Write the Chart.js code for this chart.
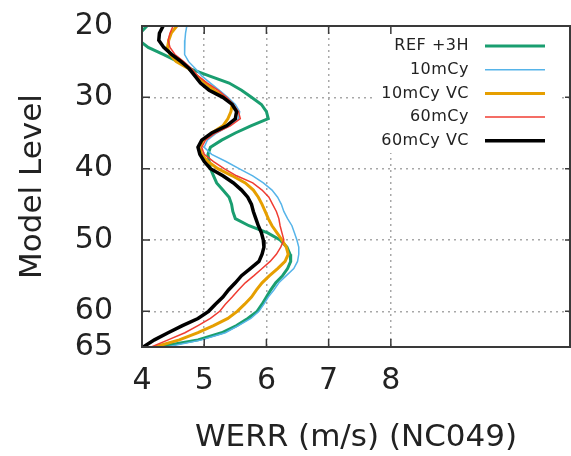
<!DOCTYPE html>
<html>
<head>
<meta charset="utf-8">
<script src="https://cdn.jsdelivr.net/npm/chart.js@4/dist/chart.umd.min.js"></script>
<style>
  html, body { margin: 0; padding: 0; background: #fff; overflow: hidden; }
  #wrap { width: 571px; height: 456px; position: relative; }
</style>
</head>
<body>
<div id="wrap"><canvas id="c"></canvas></div>
<script>
'use strict'

// model levels (shared by every series)
const levels = [20, 21, 22, 23, 24, 25, 26, 27, 28, 29, 30, 31, 32, 33, 34, 35, 36, 37, 38, 39, 40, 41, 42,
    43, 44, 45, 46, 47, 48, 49, 50, 51, 52, 53, 54, 55, 56, 57, 58, 59, 60, 61, 62, 63, 64, 65]

const ref3h = [4.08, 3.97, 3.95, 4.10, 4.35, 4.58, 4.78, 5.08, 5.40, 5.60, 5.76, 5.92, 6.00, 6.03, 5.75, 5.50,
    5.28, 5.10, 5.06, 5.08, 5.10, 5.15, 5.20, 5.30, 5.40, 5.44, 5.46, 5.50, 5.72, 6.02, 6.22, 6.33, 6.38, 6.39,
    6.34, 6.26, 6.15, 6.07, 6.00, 5.93, 5.85, 5.70, 5.52, 5.28, 4.90, 4.25]
const cy10 = [4.72, 4.70, 4.69, 4.68, 4.69, 4.75, 4.86, 4.96, 5.10, 5.24, 5.38, 5.50, 5.57, 5.55, 5.40, 5.20,
    5.05, 5.00, 5.12, 5.35, 5.56, 5.78, 5.95, 6.09, 6.18, 6.24, 6.28, 6.34, 6.41, 6.45, 6.49, 6.52, 6.52, 6.50,
    6.44, 6.32, 6.20, 6.12, 6.03, 5.96, 5.88, 5.75, 5.55, 5.34, 4.96, 4.40]
const cy10vc = [4.56, 4.47, 4.43, 4.41, 4.45, 4.55, 4.75, 4.88, 5.02, 5.16, 5.33, 5.45, 5.43, 5.38, 5.30, 5.12,
    4.98, 4.93, 4.96, 5.06, 5.22, 5.45, 5.66, 5.79, 5.87, 5.93, 5.98, 6.03, 6.09, 6.17, 6.25, 6.32, 6.35, 6.30,
    6.18, 6.05, 5.93, 5.84, 5.76, 5.65, 5.53, 5.38, 5.15, 4.90, 4.60, 4.20]
const cy60 = [4.50, 4.45, 4.42, 4.45, 4.53, 4.67, 4.80, 4.90, 5.05, 5.22, 5.36, 5.47, 5.55, 5.58, 5.42, 5.18,
    5.02, 4.96, 5.00, 5.15, 5.32, 5.52, 5.78, 5.93, 6.04, 6.10, 6.16, 6.20, 6.22, 6.25, 6.28, 6.23, 6.16, 6.06,
    5.93, 5.80, 5.66, 5.55, 5.45, 5.34, 5.25, 5.10, 4.90, 4.69, 4.42, 4.15]
const cy60vc = [4.34, 4.28, 4.27, 4.35, 4.48, 4.63, 4.76, 4.85, 4.94, 5.08, 5.30, 5.45, 5.52, 5.50, 5.36, 5.12,
    4.96, 4.90, 4.93, 5.00, 5.10, 5.30, 5.47, 5.60, 5.70, 5.76, 5.79, 5.83, 5.87, 5.92, 5.95, 5.96, 5.93, 5.88,
    5.74, 5.60, 5.50, 5.39, 5.30, 5.18, 5.07, 4.90, 4.65, 4.42, 4.20, 4.02]

const seriesNames = ['REF +3H', '10mCy', '10mCy VC', '60mCy', '60mCy VC']
const xTicks = [4, 5, 6, 7, 8]
const yTicks = [20, 30, 40, 50, 60, 65]

const FONT = 'DejaVu Sans'
const GRID = '#a8a8a8'
const AXIS = '#3a3a3a'

const series = [
    { values: ref3h, color: '#1a9e70', width: 3 },
    { values: cy10, color: '#56b4e9', width: 1.5 },
    { values: cy10vc, color: '#e69f00', width: 3 },
    { values: cy60, color: '#f03c32', width: 1.5 },
    { values: cy60vc, color: '#000000', width: 3.5 }
]

const datasets = series.map((s, i) => ({
    label: seriesNames[i],
    data: levels.map((lv, j) => ({ x: s.values[j], y: lv })),
    borderColor: s.color,
    backgroundColor: s.color,
    borderWidth: s.width,
    pointRadius: 0,
    tension: 0,
    fill: false,
    order: series.length - 1 - i
}))

// frame, inward tick marks and the opaque key box
const framePlugin = {
    id: 'frame',
    afterDraw: (chart) => {
        const ctx = chart.ctx
        const a = chart.chartArea
        const xs = chart.scales.x
        const ys = chart.scales.y

        // key
        ctx.save()
        ctx.fillStyle = '#fff'
        ctx.fillRect(372, a.top + 1, 186, 126)
        ctx.font = '16px "' + FONT + '"'
        ctx.letterSpacing = '0.5px'
        ctx.fillStyle = '#222'
        ctx.textAlign = 'right'
        ctx.textBaseline = 'middle'
        chart.data.datasets.forEach((ds, i) => {
            const y = a.top + 20 + i * 23.7
            ctx.fillText(ds.label, 469, y)
            ctx.strokeStyle = ds.borderColor
            ctx.lineWidth = ds.borderWidth
            ctx.beginPath()
            ctx.moveTo(485, y)
            ctx.lineTo(545, y)
            ctx.stroke()
        })
        ctx.restore()

        ctx.save()
        ctx.strokeStyle = AXIS
        ctx.lineWidth = 2
        ctx.beginPath()
        ctx.rect(a.left, a.top, a.right - a.left, a.bottom - a.top)
        ctx.stroke()

        ctx.lineWidth = 1.5
        ctx.beginPath()
        xTicks.slice(1).forEach((v) => {
            const px = xs.getPixelForValue(v)
            ctx.moveTo(px, a.bottom)
            ctx.lineTo(px, a.bottom - 8)
            ctx.moveTo(px, a.top)
            ctx.lineTo(px, a.top + 8)
        })
        yTicks.slice(1, -1).forEach((v) => {
            const py = ys.getPixelForValue(v)
            ctx.moveTo(a.left, py)
            ctx.lineTo(a.left + 8, py)
            ctx.moveTo(a.right, py)
            ctx.lineTo(a.right - 5, py)
        })
        ctx.stroke()
        ctx.restore()
    }
}

const gridColor = (list) => (c) => {
    const v = c.tick && c.tick.value
    return (v === list[0] || v === list[list.length - 1]) ? 'rgba(0,0,0,0)' : GRID
}

new Chart(document.getElementById('c'), {
    type: 'line',
    data: { datasets },
    options: {
        responsive: true,
        maintainAspectRatio: false,
        animation: false,
        layout: { padding: { top: 26, right: 1, left: 0, bottom: 0 } },
        plugins: {
            legend: { display: false },
            tooltip: { enabled: false }
        },
        scales: {
            x: {
                type: 'linear',
                min: 4,
                max: 10.88,
                afterBuildTicks: (s) => { s.ticks = xTicks.map((v) => ({ value: v })) },
                afterFit: (s) => {
                    s.height = 109
                    s.paddingLeft = 0
                    s.paddingRight = 0
                },
                grid: {
                    color: gridColor([4, 9]),
                    lineWidth: 1.5,
                    drawTicks: false
                },
                border: { display: false, dash: [2, 4] },
                ticks: {
                    padding: 16,
                    color: '#222',
                    maxRotation: 0,
                    font: { family: FONT, size: 30 }
                },
                title: {
                    display: true,
                    text: 'WERR (m/s) (NC049)',
                    color: '#222',
                    padding: { top: 0, bottom: -1 },
                    font: { family: FONT, size: 31 }
                }
            },
            y: {
                type: 'linear',
                reverse: true,
                min: 20,
                max: 65,
                afterBuildTicks: (s) => { s.ticks = yTicks.map((v) => ({ value: v })) },
                afterFit: (s) => {
                    s.width = 142
                    s.paddingTop = 0
                    s.paddingBottom = 0
                },
                grid: {
                    color: gridColor(yTicks),
                    lineWidth: 1.5,
                    drawTicks: false
                },
                border: { display: false, dash: [2, 4] },
                ticks: {
                    padding: 29,
                    color: '#222',
                    font: { family: FONT, size: 30 }
                },
                title: {
                    display: true,
                    text: 'Model Level',
                    color: '#222',
                    padding: { top: 14, bottom: 0 },
                    font: { family: FONT, size: 31 }
                }
            }
        }
    },
    plugins: [framePlugin]
})
</script>
</body>
</html>
